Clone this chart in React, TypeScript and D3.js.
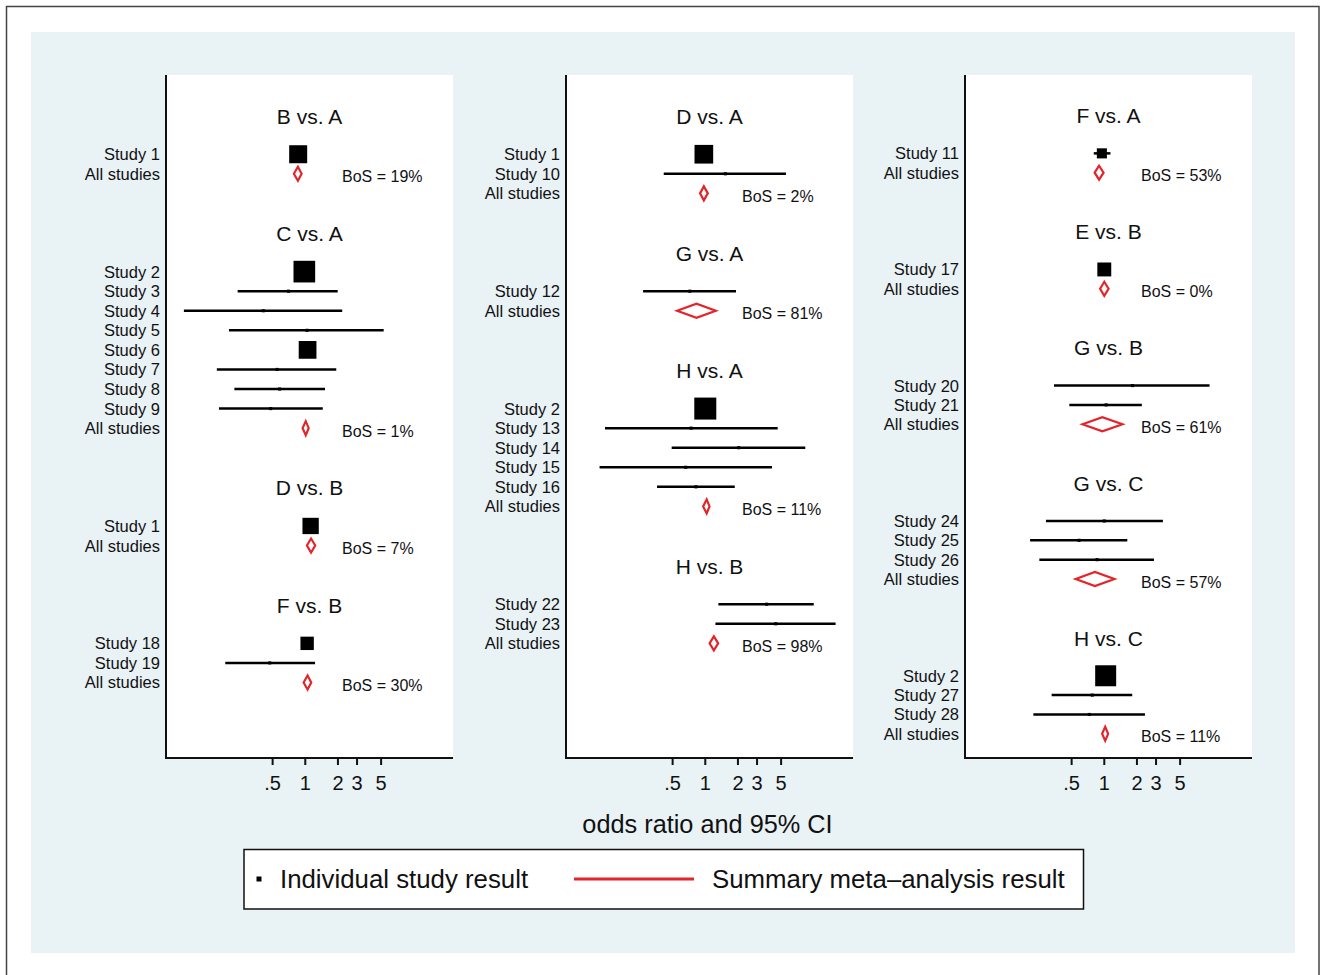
import React from "react";
import * as d3 from "d3";

// comparisons, one block per title, panels left to right
const comparisons = [
  "B vs. A", "C vs. A", "D vs. B", "F vs. B",
  "D vs. A", "G vs. A", "H vs. A", "H vs. B",
  "F vs. A", "E vs. B", "G vs. B", "G vs. C", "H vs. C",
];
const comparisonPanel = [0, 0, 0, 0, 1, 1, 1, 1, 2, 2, 2, 2, 2];
const bosPercent = [19, 1, 7, 30, 2, 81, 11, 98, 53, 0, 61, 57, 11];

// pooled (summary) odds ratios
const summaryOR = [0.855, 1.01, 1.13, 1.05, 0.97, 0.83, 1.03, 1.2, 0.895, 1.0, 0.96, 0.82, 1.02];
const summaryLower = [0.785, 0.945, 1.035, 0.965, 0.895, 0.55, 0.955, 1.095, 0.815, 0.915, 0.63, 0.545, 0.955];
const summaryUpper = [0.925, 1.075, 1.235, 1.135, 1.055, 1.25, 1.095, 1.315, 0.985, 1.095, 1.47, 1.24, 1.085];

// individual studies
const studyComparison = [0, 1, 1, 1, 1, 1, 1, 1, 1, 2, 3, 3, 4, 4, 5, 6, 6, 6, 6, 6, 7, 7, 8, 9, 10, 10, 11, 11, 11, 12, 12, 12];
const studyNames = [
  "Study 1",
  "Study 2", "Study 3", "Study 4", "Study 5", "Study 6", "Study 7", "Study 8", "Study 9",
  "Study 1",
  "Study 18", "Study 19",
  "Study 1", "Study 10",
  "Study 12",
  "Study 2", "Study 13", "Study 14", "Study 15", "Study 16",
  "Study 22", "Study 23",
  "Study 11",
  "Study 17",
  "Study 20", "Study 21",
  "Study 24", "Study 25", "Study 26",
  "Study 2", "Study 27", "Study 28",
];
const studyOR = [0.86, 0.98, 0.7, 0.41, 1.04, 1.05, 0.55, 0.58, 0.48, 1.12, 1.04, 0.47, 0.97, 1.53, 0.72, 1.0, 0.74, 2.03, 0.66, 0.82, 3.68, 4.46, 0.95, 1.0, 1.82, 1.04, 1.0, 0.585, 0.857, 1.03, 0.775, 0.727];
const studyLower = [0.79, 0.9, 0.238, 0.076, 0.198, 0.96, 0.153, 0.222, 0.16, 1.03, 0.97, 0.183, 0.89, 0.414, 0.267, 0.92, 0.119, 0.49, 0.106, 0.359, 1.32, 1.24, 0.8, 0.94, 0.344, 0.476, 0.29, 0.207, 0.252, 0.95, 0.327, 0.222];
const studyUpper = [0.93, 1.06, 1.99, 2.19, 5.28, 1.14, 1.93, 1.52, 1.45, 1.22, 1.11, 1.23, 1.05, 5.54, 1.92, 1.09, 4.65, 8.35, 4.12, 1.87, 10.0, 15.9, 1.14, 1.07, 9.34, 2.22, 3.47, 1.63, 2.87, 1.11, 1.81, 2.37];
const studyWeight = [67, 97, 2, 2, 2, 65, 2, 2, 2, 55, 37, 2, 72, 2, 2, 100, 2, 2, 2, 2, 2, 2, 21, 40, 2, 2, 2, 2, 2, 91, 2, 2];

const oddsTicks = [0.5, 1, 2, 3, 5];
const tickLabels = [".5", "1", "2", "3", "5"];

const FONT = "'Liberation Sans', Arial, Helvetica, sans-serif";
const RED = "#e3242b";
const PANEL_X = [166, 566, 965];
const PANEL_W = 287;
const TOP = 75;
const BOTTOM = 758;

const sizeScale = d3.scaleSqrt().domain([0, 100]).range([0, 22]);

function Panel({ p }: { p: number }) {
  const x0 = PANEL_X[p];
  const x = d3.scaleLog().domain([0.052, 23]).range([x0, x0 + PANEL_W]);

  // lay out rows: title, blank, studies, all studies, two blanks
  const titles: { name: string; row: number }[] = [];
  const studies: { i: number; row: number }[] = [];
  const summaries: { c: number; row: number }[] = [];
  let row = 0;
  comparisons.forEach((name, c) => {
    if (comparisonPanel[c] !== p) return;
    titles.push({ name, row });
    row += 2;
    studyComparison.forEach((sc, i) => {
      if (sc === c) {
        studies.push({ i, row });
        row += 1;
      }
    });
    summaries.push({ c, row });
    row += 3;
  });
  const lastRow = row - 3;
  const y = d3.scaleLinear().domain([-2.05, Math.max(32.86, lastRow + 1.25)]).range([TOP, BOTTOM]);

  const labelX = x0 - 6;
  const diamond = (c: number, yy: number) => {
    const h = 7;
    return `M${x(summaryLower[c])},${yy} L${x(summaryOR[c])},${yy - h} L${x(summaryUpper[c])},${yy} L${x(summaryOR[c])},${yy + h} Z`;
  };

  return (
    <g>
      <rect x={x0} y={TOP} width={PANEL_W} height={BOTTOM - TOP} fill="#fff" />
      {titles.map((t) => (
        <text key={t.name} x={x0 + PANEL_W / 2} y={y(t.row) + 1} fontSize={21} textAnchor="middle" dominantBaseline="central" fill="#111">
          {t.name}
        </text>
      ))}
      {studies.map(({ i, row: r }) => {
        const yy = y(r);
        const s = sizeScale(studyWeight[i]);
        return (
          <g key={"s" + i}>
            <text x={labelX} y={yy} fontSize={16.5} textAnchor="end" dominantBaseline="central" fill="#111">
              {studyNames[i]}
            </text>
            <line x1={x(studyLower[i])} x2={x(studyUpper[i])} y1={yy} y2={yy} stroke="#000" strokeWidth={2.5} />
            <rect x={x(studyOR[i]) - s / 2} y={yy - s / 2} width={s} height={s} fill="#000" />
          </g>
        );
      })}
      {summaries.map(({ c, row: r }) => {
        const yy = y(r);
        return (
          <g key={"m" + c}>
            <text x={labelX} y={yy} fontSize={16.5} textAnchor="end" dominantBaseline="central" fill="#111">
              All studies
            </text>
            <path d={diamond(c, yy)} fill="#fff" stroke={RED} strokeWidth={2.2} strokeLinejoin="miter" />
            <text x={x0 + 176} y={yy + 3} fontSize={16} dominantBaseline="central" fill="#111">
              {`BoS = ${bosPercent[c]}%`}
            </text>
          </g>
        );
      })}
      <line x1={x0} x2={x0} y1={TOP} y2={BOTTOM} stroke="#111" strokeWidth={2} />
      <line x1={x0 - 1} x2={x0 + PANEL_W} y1={BOTTOM} y2={BOTTOM} stroke="#111" strokeWidth={2} />
      {oddsTicks.map((t, k) => (
        <g key={"t" + t}>
          <line x1={x(t)} x2={x(t)} y1={BOTTOM} y2={BOTTOM + 7} stroke="#111" strokeWidth={2} />
          <text x={x(t)} y={BOTTOM + 25} fontSize={20} textAnchor="middle" dominantBaseline="central" fill="#111">
            {tickLabels[k]}
          </text>
        </g>
      ))}
    </g>
  );
}

export default function App() {
  return (
    <div style={{ position: "absolute", left: 0, top: 0 }}>
      <svg width={1325} height={975} style={{ display: "block", fontFamily: FONT }}>
        <rect x={0} y={0} width={1325} height={975} fill="#fff" />
        <rect x={6.5} y={6.5} width={1312.5} height={1000} fill="#fff" stroke="#444" strokeWidth={1.5} />
        <rect x={31} y={32} width={1264} height={921} fill="#e9f2f5" />
        {[0, 1, 2].map((p) => (
          <Panel key={p} p={p} />
        ))}
        <text x={707.5} y={824} fontSize={25.3} textAnchor="middle" dominantBaseline="central" fill="#111">
          odds ratio and 95% CI
        </text>
        <rect x={244} y={849.5} width={839.5} height={59.5} fill="#fff" stroke="#111" strokeWidth={1.5} />
        <rect x={256.5} y={876.5} width={5} height={5} fill="#000" />
        <text x={280} y={879} fontSize={25.8} dominantBaseline="central" fill="#111">
          Individual study result
        </text>
        <line x1={574} x2={694} y1={879} y2={879} stroke={RED} strokeWidth={3} />
        <text x={712} y={879} fontSize={25.8} dominantBaseline="central" fill="#111">
          Summary meta–analysis result
        </text>
      </svg>
    </div>
  );
}
